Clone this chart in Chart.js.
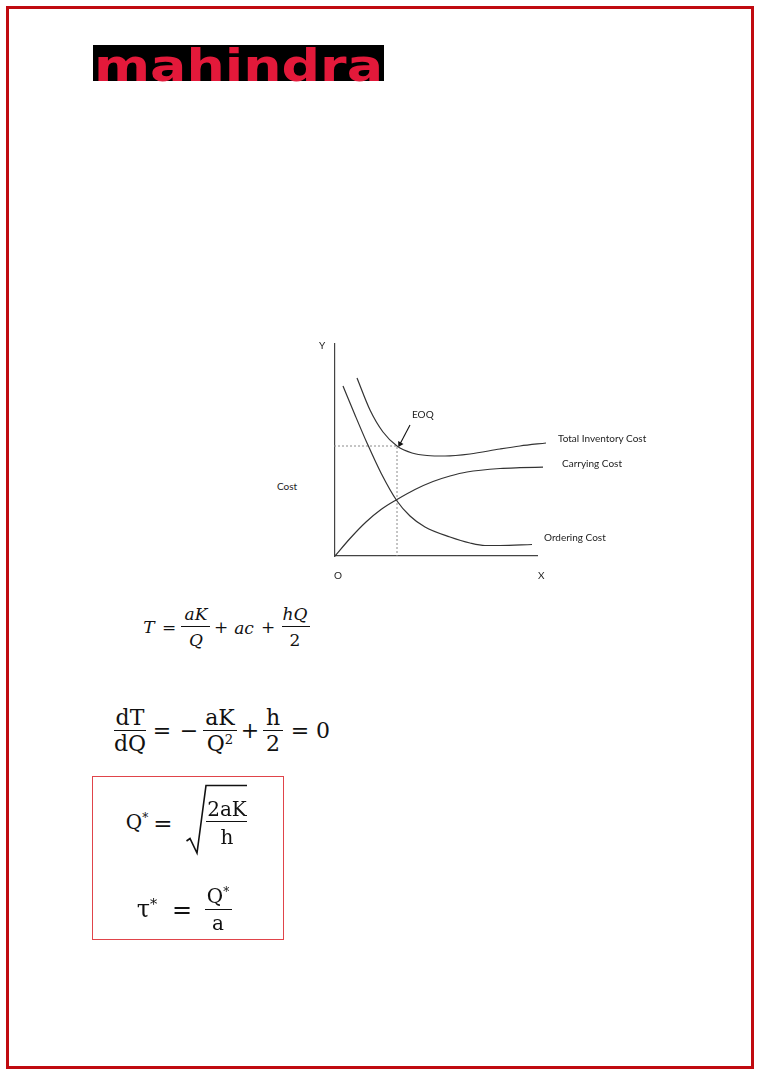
<!DOCTYPE html>
<html>
<head>
<meta charset="utf-8">
<script src="https://cdn.jsdelivr.net/npm/chart.js@4.4.1/dist/chart.umd.min.js"></script>
<style>
  html, body { margin:0; padding:0; background:#fff; }
  #page { position:relative; width:761px; height:1076px; overflow:hidden; background:#fff; }
  #frame { position:absolute; left:6px; top:6px; width:748px; height:1063px; box-sizing:border-box; border:3px solid #c00a10; }
  #logo { position:absolute; left:93px; top:30px; }
  #chartWrap { position:absolute; left:300px; top:330px; width:260px; height:240px; }
  .lbl { position:absolute; font-family:Lato, "Open Sans", sans-serif; font-size:10px; color:#222; line-height:1; white-space:nowrap; transform:translateY(-50%); }
  .c { position:absolute; transform:translate(-50%,-50%); line-height:1; white-space:nowrap; color:#111; }
  .f1 { font-family:"DejaVu Serif", serif; font-style:italic; font-size:17px; }
  .f2 { font-family:"DejaVu Serif", serif; font-size:22px; }
  .f3 { font-family:"DejaVu Serif", serif; font-size:20px; }
  .bar { position:absolute; height:1.4px; background:#111; }
  #box { position:absolute; left:92px; top:776px; width:192px; height:164px; box-sizing:border-box; border:1px solid #e0444a; }
  sup { font-size:0.6em; vertical-align:0.55em; }
</style>
</head>
<body>
<div id="page">
  <div id="frame"></div>

  <svg id="logo" width="291" height="80" xmlns="http://www.w3.org/2000/svg">
    <rect x="0" y="15" width="291" height="36" fill="#000"/>
    <text x="1" y="41.1" transform="scale(1,1.24)" textLength="289" lengthAdjust="spacingAndGlyphs"
          font-family="DejaVu Sans" font-weight="bold" font-size="36" fill="#e3193a">mahindra</text>
  </svg>

  <div id="chartWrap"><canvas id="eoq" width="260" height="240"></canvas></div>

  <div class="lbl" style="left:319px; top:345px;">Y</div>
  <div class="lbl" style="left:412px; top:414px;">EOQ</div>
  <div class="lbl" style="left:558px; top:438px;">Total Inventory Cost</div>
  <div class="lbl" style="left:562px; top:463px;">Carrying Cost</div>
  <div class="lbl" style="left:277px; top:486px;">Cost</div>
  <div class="lbl" style="left:544px; top:537px;">Ordering Cost</div>
  <div class="lbl" style="left:334px; top:575px;">O</div>
  <div class="lbl" style="left:538px; top:575px;">X</div>

  <!-- Formula 1 -->
  <div class="c f1" style="left:149px; top:627px;">T</div>
  <div class="c f1" style="left:169px; top:627px; font-style:normal;">=</div>
  <div class="c f1" style="left:196px; top:614px;">aK</div>
  <div class="bar" style="left:181px; top:625.5px; width:29px; height:1.2px;"></div>
  <div class="c f1" style="left:196px; top:640px;">Q</div>
  <div class="c f1" style="left:221px; top:627px; font-style:normal;">+</div>
  <div class="c f1" style="left:244px; top:628px;">ac</div>
  <div class="c f1" style="left:268px; top:627px; font-style:normal;">+</div>
  <div class="c f1" style="left:295px; top:614px;">hQ</div>
  <div class="bar" style="left:282px; top:625.5px; width:28px; height:1.2px;"></div>
  <div class="c f1" style="left:295px; top:640px; font-style:normal;">2</div>

  <!-- Formula 2 -->
  <div class="c f2" style="left:130px; top:718px;">dT</div>
  <div class="bar" style="left:114px; top:729.5px; width:32px; height:1.6px;"></div>
  <div class="c f2" style="left:130px; top:744px;">dQ</div>
  <div class="c f2" style="left:162px; top:731px;">=</div>
  <div class="c f2" style="left:189px; top:731px;">−</div>
  <div class="c f2" style="left:220px; top:718px;">aK</div>
  <div class="bar" style="left:203px; top:729.5px; width:34px; height:1.6px;"></div>
  <div class="c f2" style="left:220px; top:744px;">Q<sup>2</sup></div>
  <div class="c f2" style="left:250px; top:731px;">+</div>
  <div class="c f2" style="left:273px; top:718px;">h</div>
  <div class="bar" style="left:263px; top:729.5px; width:20px; height:1.6px;"></div>
  <div class="c f2" style="left:273px; top:744px;">2</div>
  <div class="c f2" style="left:300px; top:731px;">=</div>
  <div class="c f2" style="left:323px; top:731px;">0</div>

  <!-- Boxed results -->
  <div id="box"></div>
  <div class="c f3" style="left:137px; top:822px;">Q<sup>*</sup></div>
  <div class="c f3" style="left:163px; top:823px; font-size:23px;">=</div>
  <svg style="position:absolute; left:0; top:0;" width="761" height="1076" xmlns="http://www.w3.org/2000/svg">
    <path d="M186.5,841 L190,838.5 L197,853 L206,785.5 L247,785.5" fill="none" stroke="#111" stroke-width="1.6"/>
  </svg>
  <div class="c f3" style="left:227px; top:809px;">2aK</div>
  <div class="bar" style="left:206px; top:821px; width:41px;"></div>
  <div class="c f3" style="left:227px; top:837px;">h</div>

  <div class="c f3" style="left:147px; top:909px; font-size:24px;">τ<sup>*</sup></div>
  <div class="c f3" style="left:182px; top:910px; font-size:24px;">=</div>
  <div class="c f3" style="left:218px; top:896px;">Q<sup>*</sup></div>
  <div class="bar" style="left:205px; top:908.5px; width:27px;"></div>
  <div class="c f3" style="left:218px; top:923px;">a</div>
</div>

<script>
// Quantity (x) and cost (y) readings for each curve, in chart units
const totalQty     = [22, 35, 48, 62, 77, 92, 110, 135, 165, 185, 211];
const totalCost    = [178, 146, 124, 110, 103, 100.5, 100, 102, 107, 110, 113];
const carryingQty  = [0, 15, 31, 46, 62, 80, 98, 115, 132, 165, 185, 208];
const carryingCost = [0, 17.5, 34, 46.5, 56.5, 66.5, 74.5, 80, 84, 87.5, 88.3, 88.8];
const orderingQty  = [8, 20, 32, 46, 62, 75, 90, 115, 135, 150, 165, 197];
const orderingCost = [170, 141, 113, 83, 55, 40, 29, 19, 13, 10.5, 10.5, 11.5];
const eoqQty  = 62;
const eoqCost = 110;
const arrowFrom = [75, 131];
const arrowTo   = [65, 112];
const axisMaxQty  = 202;
const axisMaxCost = 212;

const pts = (xs, ys) => xs.map((x, i) => ({ x: x, y: ys[i] }));
const curve = (data) => ({
  data, showLine: true, borderColor: '#333', borderWidth: 1.2,
  pointRadius: 0, cubicInterpolationMode: 'monotone', clip: false, fill: false
});

new Chart(document.getElementById('eoq'), {
  type: 'scatter',
  data: {
    datasets: [
      curve(pts(totalQty, totalCost)),
      curve(pts(carryingQty, carryingCost)),
      curve(pts(orderingQty, orderingCost)),
      { data: [{x: -1, y: eoqCost}, {x: eoqQty, y: eoqCost}, {x: eoqQty, y: 0}],
        showLine: true, borderColor: '#8a8a8a', borderWidth: 1, borderDash: [2, 2],
        pointRadius: 0, tension: 0, clip: false },
      { data: [{x: arrowFrom[0], y: arrowFrom[1]}, {x: arrowTo[0], y: arrowTo[1]}],
        showLine: true, borderColor: '#111', borderWidth: 1.1,
        pointRadius: [0, 3.5], pointStyle: 'triangle', rotation: 208,
        pointBackgroundColor: '#111', pointBorderColor: '#111', pointBorderWidth: 0,
        tension: 0, clip: false }
    ]
  },
  options: {
    responsive: false, animation: false, devicePixelRatio: 1,
    layout: { padding: { left: 35, top: 14, right: 23, bottom: 14 } },
    plugins: { legend: { display: false }, tooltip: { enabled: false } },
    scales: {
      x: { type: 'linear', min: 0, max: axisMaxQty,
           ticks: { display: false }, grid: { display: false, drawTicks: false },
           border: { display: true, color: '#444', width: 1.2 } },
      y: { type: 'linear', min: 0, max: axisMaxCost,
           ticks: { display: false }, grid: { display: false, drawTicks: false },
           border: { display: true, color: '#444', width: 1.2 } }
    }
  }
});
</script>
</body>
</html>
